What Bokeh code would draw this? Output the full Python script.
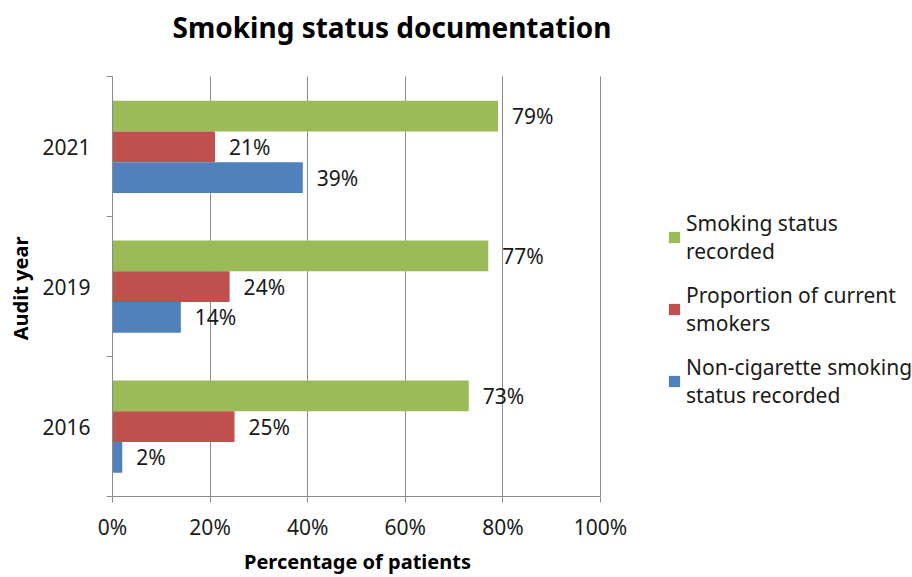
from bokeh.plotting import figure
from bokeh.models import FixedTicker, Legend, LegendItem, Range1d, Label
from bokeh.embed import file_html
from bokeh.resources import INLINE
from bokeh.core.properties import value

years = ["2016", "2019", "2021"]
recorded = [73, 77, 79]
current = [25, 24, 21]
noncig = [2, 14, 39]
series_names = ["Smoking status\nrecorded",
                "Proportion of current\nsmokers",
                "Non-cigarette smoking\nstatus recorded"]
x_ticks = [0, 20, 40, 60, 80, 100]
title_text = "Smoking status documentation"
x_title = "Percentage of patients"
y_title = "Audit year"

colors = ["#9BBB59", "#C0504D", "#4F81BD"]
FONT = "Noto Sans"
TXT = "#1a1a1a"
GRID = "#8c8c8c"
FS = "21px"
EM, EN = "\u2003", "\u2002"   # fixed-width spaces used to shift the axis titles

W, H = 912, 577
LEFT, BOTTOM = 112, 77
PLOT_W, PLOT_H = 488, 423          # visible plotting area (0-100 %, 3 years)
X_MAX = 100 * (W - LEFT) / PLOT_W   # frame extends to the right for the legend
Y_MAX = 3 * (H - BOTTOM) / PLOT_H   # and upward for the title

p = figure(width=W, height=H, output_backend="svg", toolbar_location=None,
           x_range=Range1d(0, X_MAX), y_range=Range1d(0, Y_MAX),
           min_border_left=LEFT, min_border_right=0,
           min_border_top=0, min_border_bottom=BOTTOM)

centers = [i + 0.5 for i in range(len(years))]
offsets = [0.22, 0.0, -0.22]
bar_h = 0.22

renderers = []
for vals, off, col in zip([recorded, current, noncig], offsets, colors):
    ys = [c + off for c in centers]
    r = p.hbar(y=ys, left=0, right=vals, height=bar_h, fill_color=col, line_color=None)
    renderers.append(r)
    p.text(x=vals, y=ys, text=[f"{v}%" for v in vals], x_offset=14,
           text_baseline="middle", text_align="left",
           text_font=value(FONT), text_font_size=FS, text_color=TXT)

# title
p.add_layout(Label(x=0, y=3, x_offset=60, y_offset=50, text=title_text,
                   text_font=FONT, text_font_size="28px", text_font_style="bold",
                   text_color="#000000", text_baseline="alphabetic"))

p.outline_line_color = None
p.ygrid.grid_line_color = None
p.xgrid.ticker = FixedTicker(ticks=x_ticks)
p.xgrid.grid_line_color = GRID
p.xgrid.bounds = (0, 100)
p.xgrid.cross_bounds = (0, 3)

# x axis
xa = p.xaxis[0]
xa.bounds = (0, 100)
xa.ticker = FixedTicker(ticks=x_ticks)
xa.major_label_overrides = {v: f"{v}%" for v in x_ticks}
xa.axis_line_color = GRID
xa.major_tick_line_color = GRID
xa.major_tick_in = 0
xa.major_tick_out = 6
xa.minor_tick_line_color = None
xa.major_label_text_font = FONT
xa.major_label_text_font_size = FS
xa.major_label_text_color = TXT
xa.major_label_standoff = 10
xa.axis_label = x_title + EM * 15 + EN
xa.axis_label_text_font = FONT
xa.axis_label_text_font_size = "20px"
xa.axis_label_text_font_style = "bold"
xa.axis_label_text_color = "#000000"
xa.axis_label_standoff = 4

# y axis
ya = p.yaxis[0]
ya.bounds = (0, 3)
ya.ticker = FixedTicker(ticks=centers, minor_ticks=[0, 1, 2, 3])
ya.major_label_overrides = {c: y for c, y in zip(centers, years)}
ya.axis_line_color = GRID
ya.major_tick_line_color = None
ya.major_tick_in = 0
ya.major_tick_out = 6
ya.minor_tick_line_color = GRID
ya.minor_tick_in = 0
ya.minor_tick_out = 6
ya.major_label_text_font = FONT
ya.major_label_text_font_size = FS
ya.major_label_text_color = TXT
ya.major_label_standoff = 16
ya.axis_label = y_title + EM * 4
ya.axis_label_text_font = FONT
ya.axis_label_text_font_size = "20px"
ya.axis_label_text_font_style = "bold"
ya.axis_label_text_color = "#000000"
ya.axis_label_standoff = 5

legend = Legend(items=[LegendItem(label=n, renderers=[r]) for n, r in zip(series_names, renderers)],
                location=(555, 87))
legend.border_line_color = None
legend.background_fill_alpha = 0
legend.padding = 0
legend.margin = 0
legend.label_text_font = FONT
legend.label_text_font_size = FS
legend.label_text_line_height = 1.42
legend.label_text_color = TXT
legend.glyph_width = 14
legend.glyph_height = 14
legend.label_standoff = 5
legend.spacing = 16
p.add_layout(legend, "center")

open("out.html", "w").write(file_html(p, INLINE))
